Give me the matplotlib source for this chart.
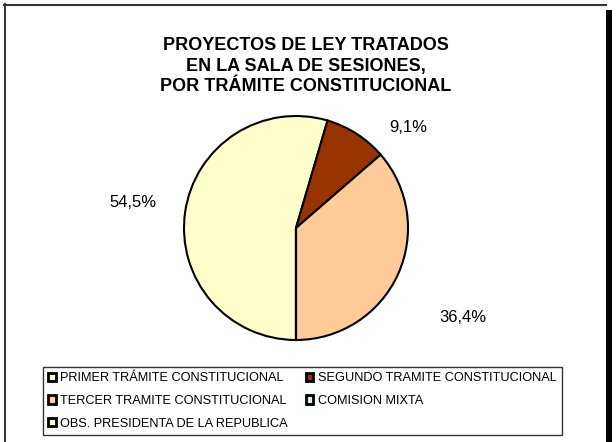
import matplotlib.pyplot as plt
from matplotlib.patches import Patch, Rectangle

plt.rcParams['font.family'] = ['Liberation Sans', 'DejaVu Sans']

categories = ['PRIMER TRÁMITE CONSTITUCIONAL', 'SEGUNDO TRAMITE CONSTITUCIONAL',
              'TERCER TRAMITE CONSTITUCIONAL', 'COMISION MIXTA',
              'OBS. PRESIDENTA DE LA REPUBLICA']
values = [6, 1, 4, 0, 0]
colors = ['#FFFFCC', '#993300', '#FFCC99', '#CCFFCC', '#FFFFCC']
title = 'PROYECTOS DE LEY TRATADOS\nEN LA SALA DE SESIONES,\nPOR TRÁMITE CONSTITUCIONAL'

fig = plt.figure(figsize=(6.16, 4.42), dpi=100)
W, H = 616, 442

# chart frame with shadow on the right
fig.add_artist(Rectangle((606 / W, 0), 6 / W, 1 - 10 / H, transform=fig.transFigure,
                         facecolor='black', edgecolor='none'))
fig.add_artist(plt.Line2D([4.5 / W, 4.5 / W], [0, 1 - 4 / H], transform=fig.transFigure,
                          color='#333333', lw=1.5))
fig.add_artist(plt.Line2D([4 / W, 606 / W], [1 - 4.5 / H, 1 - 4.5 / H],
                          transform=fig.transFigure, color='#333333', lw=1.5))

fig.text(306 / W, 1 - 66 / H, title, ha='center', va='center', fontsize=13,
         fontweight='bold', linespacing=1.3)

cx, cy, r = 296, 228, 112
ax = fig.add_axes([(cx - r) / W, 1 - (cy + r) / H, 2 * r / W, 2 * r / H])
wedges, _ = ax.pie(values, colors=colors, startangle=-90, counterclock=False, radius=1,
                   wedgeprops=dict(edgecolor='black', linewidth=1.5))
ax.set_xlim(-1, 1)
ax.set_ylim(-1, 1)
ax.set_aspect('equal')
ax.axis('off')

total = sum(values)
label_pos = {0: (-1.455, 0.232), 1: (1.0, 0.893), 2: (1.49, -0.80)}
for i, v in enumerate(values):
    if v == 0:
        continue
    pct = f'{100 * v / total:.1f}%'.replace('.', ',')
    x, y = label_pos[i]
    ax.text(x, y, pct, ha='center', va='center', fontsize=12, clip_on=False)

order = [0, 2, 4, 1, 3]
handles = [Patch(facecolor=colors[i], edgecolor='black', linewidth=2) for i in order]
labels = [categories[i] for i in order]
leg = fig.legend(handles, labels, ncol=2, loc='upper left',
                 bbox_to_anchor=(43 / W, 1 - 367 / H),
                 fontsize=9.2, frameon=True, fancybox=False,
                 edgecolor='black', handlelength=0.6, handleheight=0.6,
                 handletextpad=0.35, columnspacing=1.4, labelspacing=0.85,
                 borderpad=0.4, borderaxespad=0)
leg.get_frame().set_linewidth(1.0)

fig.savefig('out.png', dpi=100)
